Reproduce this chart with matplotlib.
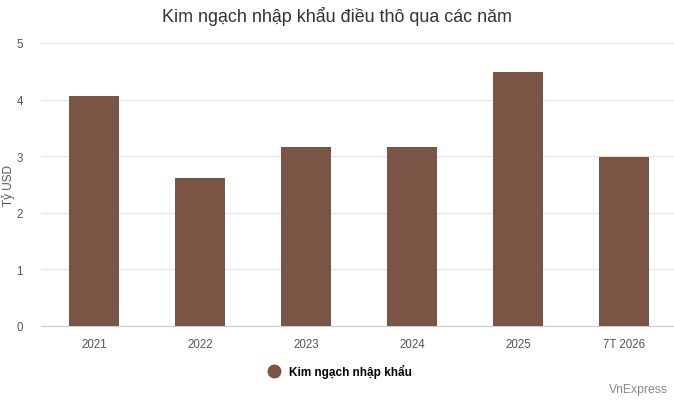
import matplotlib
matplotlib.use("Agg")
import matplotlib.pyplot as plt
from matplotlib.lines import Line2D

plt.rcParams['font.family'] = ['Liberation Sans', 'DejaVu Sans']

categories = ["2021", "2022", "2023", "2024", "2025", "7T 2026"]
values = [4.07, 2.62, 3.17, 3.17, 4.48, 2.98]
bar_color = "#7a5444"

W, H = 674, 402
fig = plt.figure(figsize=(W / 100, H / 100), dpi=100)
# axes in pixel coords: left 41, right 677, top 44, bottom 327
ax = fig.add_axes([41 / W, (H - 327) / H, 636 / W, (327 - 44) / H])

x = range(len(categories))
ax.bar(x, values, width=0.47, color=bar_color, zorder=3)

ax.set_xlim(-0.5, len(categories) - 0.5)
ax.set_ylim(0, 5)
ax.set_yticks([0, 1, 2, 3, 4, 5])
ax.set_xticks(list(x))
ax.set_xticklabels(categories)
ax.tick_params(axis="both", length=0, labelsize=8.3, colors="#555555")
ax.tick_params(axis="y", pad=13)
ax.tick_params(axis="x", pad=9)
ax.grid(axis="y", color="#e6e6e6", linewidth=1, zorder=0)
for s in ["top", "right", "left"]:
    ax.spines[s].set_visible(False)
ax.spines["bottom"].set_color("#cccccc")
ax.set_ylabel("Tỷ USD", fontsize=8.5, color="#555555")
ax.yaxis.set_label_coords(-0.041, 0.5)

fig.text(337 / W, 1 - 17 / H, "Kim ngạch nhập khẩu điều thô qua các năm",
         ha="center", va="center", fontsize=12.9, color="#333333")

handle = Line2D([], [], marker="o", linestyle="", markersize=9,
                markerfacecolor=bar_color, markeredgecolor=bar_color)
fig.legend([handle], ["Kim ngạch nhập khẩu"], loc="center",
           bbox_to_anchor=(337 / W, 1 - 372 / H), frameon=False,
           prop={"weight": "bold", "size": 8.5}, handletextpad=0.3)

fig.text(668 / W, 1 - 390 / H, "VnExpress", ha="right", va="center",
         fontsize=8.7, color="#888888")

fig.savefig("out.png", dpi=100)
